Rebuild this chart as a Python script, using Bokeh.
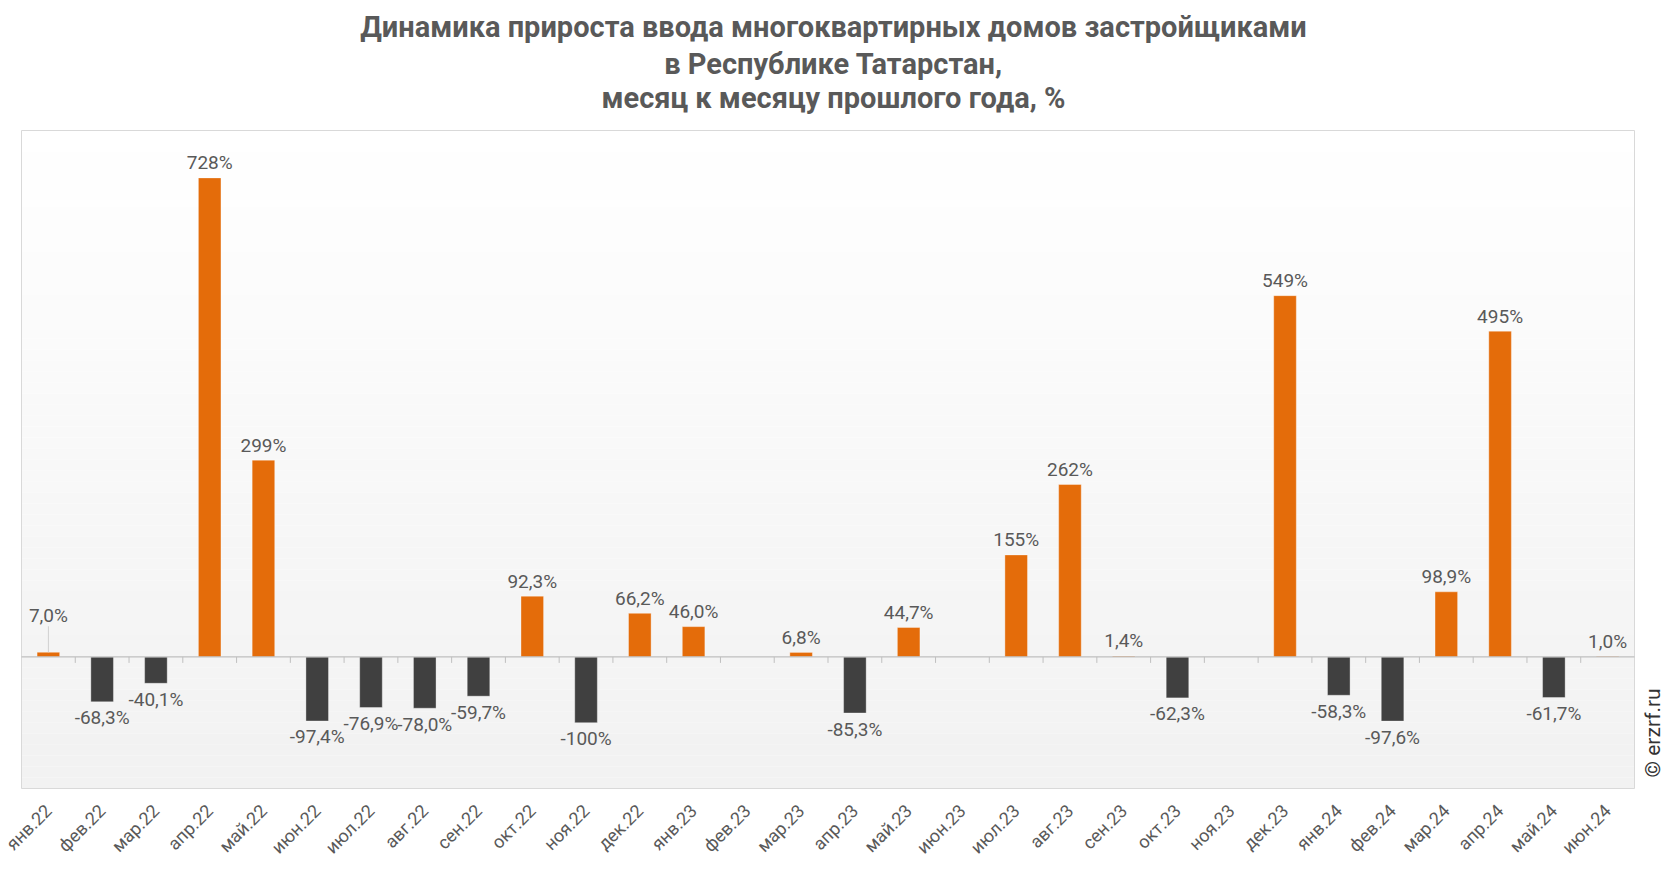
import math
import numpy as np
from bokeh.plotting import figure
from bokeh.models import ColumnDataSource, FixedTicker, Range1d
from bokeh.embed import file_html
from bokeh.resources import INLINE
from bokeh.core.properties import value

# ---------------- data ----------------
months = ["янв.22", "фев.22", "мар.22", "апр.22", "май.22", "июн.22", "июл.22", "авг.22",
          "сен.22", "окт.22", "ноя.22", "дек.22", "янв.23", "фев.23", "мар.23", "апр.23",
          "май.23", "июн.23", "июл.23", "авг.23", "сен.23", "окт.23", "ноя.23", "дек.23",
          "янв.24", "фев.24", "мар.24", "апр.24", "май.24", "июн.24"]
growth = [7.0, -68.3, -40.1, 728, 299, -97.4, -76.9, -78.0,
          -59.7, 92.3, -100, 66.2, 46.0, None, 6.8, -85.3,
          44.7, None, 155, 262, 1.4, -62.3, None, 549,
          -58.3, -97.6, 98.9, 495, -61.7, 1.0]
title_lines = ["Динамика прироста ввода многоквартирных домов застройщиками",
               "в Республике Татарстан,",
               "месяц к месяцу прошлого года, %"]
watermark = "© erzrf.ru"

# ---------------- styles / layout ----------------
ORANGE = "#E46C0A"
DARK = "#404040"
TEXT = "#595959"
FONT = "Roboto"
Y_MIN, Y_MAX = -200, 800
W, H = 1666, 872
BOX_LEFT, BOX_RIGHT, BOX_TOP, BOX_BOTTOM = 21, 1634, 130, 788   # plot box in px
TITLE_BASELINES = [26.5, 63, 97.5]                                 # px from top
TITLE_CENTER = 833
PAD = 1
N = len(months)
ppx = (BOX_RIGHT - BOX_LEFT) / N                 # px per category
ppu = (BOX_BOTTOM - BOX_TOP) / (Y_MAX - Y_MIN)   # px per data unit
FRAME_LEFT, FRAME_BOTTOM = BOX_LEFT - PAD, BOX_BOTTOM + PAD
lifted = {"янв.22": 37}                           # labels pulled up with a leader line


def fmt(v):
    if abs(v) >= 100:
        s = f"{v:.0f}"
    else:
        s = f"{v:.1f}".replace(".", ",")
    return s + "%"


xs, vals, cols, labs, offs = [], [], [], [], []
lead_x, lead_y0, lead_y1 = [], [], []
for i, (m, v) in enumerate(zip(months, growth)):
    if v is None:
        continue
    xs.append(i + 0.5)
    vals.append(v)
    cols.append(ORANGE if v >= 0 else DARK)
    labs.append(fmt(v))
    if v >= 0:
        if m in lifted:
            offs.append(-lifted[m])
            lead_x.append(i + 0.5)
            lead_y0.append(v)
            lead_y1.append(v + (lifted[m] - 11) / ppu)
        else:
            offs.append(-15)
    else:
        offs.append(16)

src = ColumnDataSource(dict(x=xs, top=vals, color=cols, label=labs, off=offs))


def px_to_x(px):
    return (px - BOX_LEFT) / ppx


def px_to_y(py):
    return Y_MAX + (BOX_TOP - py) / ppu


p = figure(width=W, height=H, output_backend="svg", toolbar_location=None,
           x_range=Range1d(px_to_x(FRAME_LEFT), px_to_x(W)),
           y_range=Range1d(px_to_y(FRAME_BOTTOM), px_to_y(0)),
           min_border_left=FRAME_LEFT, min_border_right=0,
           min_border_top=0, min_border_bottom=H - FRAME_BOTTOM)
p.background_fill_color = "white"
p.border_fill_color = "white"
p.outline_line_color = None
p.xgrid.visible = False
p.ygrid.visible = False
p.yaxis.visible = False

# gradient background (white at top to light grey at bottom)
n = 60
edges = np.linspace(Y_MAX, Y_MIN, n + 1)
grad_cols = []
for k in range(n):
    t = (k + 0.5) / n
    c = int(round(255 - (255 - 242) * min(1.0, t * 1.05)))
    grad_cols.append(f"#{c:02x}{c:02x}{c:02x}")
p.quad(left=0, right=N, top=edges[:-1], bottom=edges[1:],
       fill_color=grad_cols, line_color=None, level="image")
# plot box
p.quad(left=0, right=N, top=Y_MAX, bottom=Y_MIN, fill_color=None,
       line_color="#d9d9d9", line_width=1)

# bars
p.vbar(x="x", top="top", bottom=0, width=0.42, source=src,
       fill_color="color", line_color="white", line_alpha=0.35, line_width=1)

# zero line with category boundary ticks
p.segment(x0=[0], y0=[0], x1=[N], y1=[0], line_color="#bfbfbf", line_width=1.2)
bounds = list(range(1, N))
p.segment(x0=bounds, y0=[0] * len(bounds), x1=bounds, y1=[-6 / ppu] * len(bounds),
          line_color="#bfbfbf", line_width=1)

# leader lines
p.segment(x0=lead_x, y0=lead_y0, x1=lead_x, y1=lead_y1, line_color="#d0d0d0", line_width=1)

# data labels
p.text(x="x", y="top", text="label", source=src, y_offset="off",
       text_align="center", text_baseline="middle",
       text_font=value(FONT), text_font_size="19px", text_color=TEXT)

# title lines, each centred
p.text(x=[px_to_x(TITLE_CENTER)] * len(title_lines),
       y=[px_to_y(b) for b in TITLE_BASELINES], text=title_lines,
       text_align="center", text_baseline="alphabetic",
       text_font=value(FONT), text_font_size="29px", text_font_style="bold",
       text_color=TEXT)

# watermark, to the right of the plot box, reading upwards
p.text(x=[px_to_x(1652)], y=[px_to_y(777)], text=[watermark],
       angle=90, angle_units="deg", text_align="left", text_baseline="middle",
       text_font=value(FONT), text_font_size="21px", text_color="#333333")

# x axis
p.xaxis.ticker = FixedTicker(ticks=[i + 0.5 for i in range(N)])
p.xaxis.major_label_overrides = {i + 0.5: m for i, m in enumerate(months)}
p.xaxis.major_label_orientation = math.pi / 4
p.xaxis.axis_line_color = None
p.xaxis.major_tick_line_color = None
p.xaxis.minor_tick_line_color = None
p.xaxis.major_tick_out = 0
p.xaxis.major_tick_in = 0
p.xaxis.minor_tick_out = 0
p.xaxis.major_label_standoff = 18
p.xaxis.major_label_text_font = FONT
p.xaxis.major_label_text_font_size = "18px"
p.xaxis.major_label_text_color = TEXT

open("out.html", "w").write(file_html(p, INLINE))
